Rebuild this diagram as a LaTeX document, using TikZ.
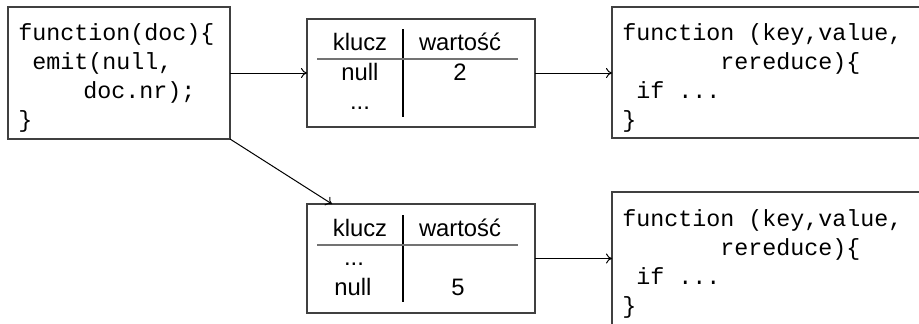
\documentclass[tikz,border=0pt]{standalone}
\usepackage{fontspec}
\setmainfont{Liberation Sans}
\newfontfamily\codefont{Liberation Mono}
\usetikzlibrary{arrows.meta}
\begin{document}
\begin{tikzpicture}[x=0.5pt,y=-0.5pt,
  box/.style={draw=black!75, line width=0.65pt, inner sep=0, outer sep=0, anchor=north west},
  code/.style={font=\codefont\fontsize{11.67pt}{14pt}\selectfont, inner sep=0, anchor=base west},
  cell/.style={font=\fontsize{11.9pt}{14pt}\selectfont, inner sep=0, anchor=base},
  conn/.style={-{To[length=3pt,width=5pt]}, line width=0.5pt},
  tabrule/.style={draw=black!55, line width=1pt},
  tabsep/.style={draw=black, line width=0.6pt}]
\useasboundingbox (0,0) rectangle (919,323);
\begin{scope}
\clip (0,0) rectangle (919,323);
% boxes
\node[box, minimum width=111pt, minimum height=66pt] (A) at (8,7) {};
\node[box, minimum width=114pt, minimum height=54pt] (B) at (307,19) {};
\node[box, minimum width=159pt, minimum height=65.5pt] (C) at (612,7) {};
\node[box, minimum width=114pt, minimum height=54.5pt] (B2) at (307,204) {};
\node[box, minimum width=159pt, minimum height=75pt] (C2) at (612,192) {};
% code in A
\node[code] (a1) at (18,40) {function(doc)\{};
\node[code] (a2) at (32,69) {emit(null,};
\node[code] (a3) at (83,98) {doc.nr);};
\node[code] (a4) at (18,127) {\}};
% code in C
\node[code] (c1) at (622,40) {function (key,value,};
\node[code] (c2) at (720,69) {rereduce)\{};
\node[code] (c3) at (636,98) {if ...};
\node[code] (c4) at (622,127) {\}};
% code in C2
\node[code] (d1) at (622,226) {function (key,value,};
\node[code] (d2) at (720,255) {rereduce)\{};
\node[code] (d3) at (636,284) {if ...};
\node[code] (d4) at (622,313) {\}};
% table B
\draw[tabsep] (403,29) -- (403,117);
\draw[tabrule] (317,59) -- (518,59);
\node[cell] (bk) at (360,50) {klucz};
\node[cell] (bw) at (460,50) {wartość};
\node[cell] (bn) at (360,80) {null};
\node[cell] (bv) at (460,80) {2};
\node[cell] (bd) at (360,109) {...};
% table B2
\draw[tabsep] (403,215) -- (403,302);
\draw[tabrule] (317,245) -- (518,245);
\node[cell] (ek) at (360,236) {klucz};
\node[cell] (ew) at (460,236) {wartość};
\node[cell] (ed) at (354,265) {...};
\node[cell] (en) at (353,295) {null};
\node[cell] (ev) at (458,295) {5};
% connectors
\draw[conn] (A.east) -- (B.west);
\draw[conn] (B.east) -- (C.west |- B.east);
\draw[conn] (A.south east) -- ([xshift=12.5pt]B2.north west);
\draw[conn] (B2.east) -- (C2.west |- B2.east);
\end{scope}
\end{tikzpicture}
\end{document}
